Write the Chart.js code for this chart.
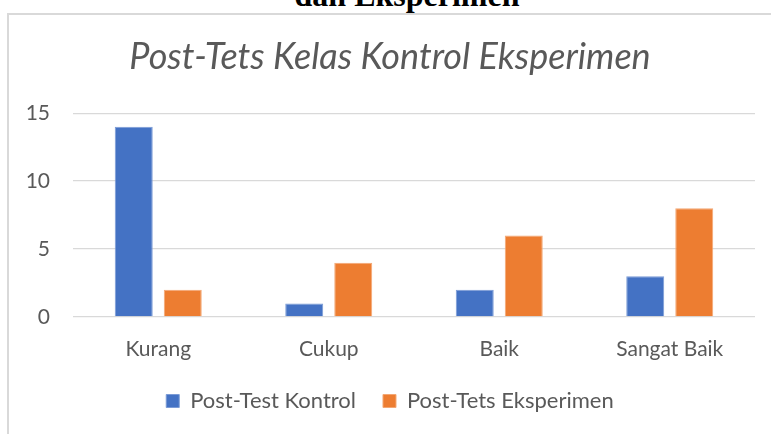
<!DOCTYPE html>
<html>
<head>
<meta charset="utf-8">
<script src="https://cdn.jsdelivr.net/npm/chart.js@4"></script>
<style>
  body { margin: 0; background: #fff; width: 771px; height: 434px; overflow: hidden; position: relative; }
  .caption { position: absolute; left: 0; width: 814px; top: -23px; text-align: center; line-height: 32px;
             font: bold 32px "Liberation Serif", serif; color: #000; white-space: nowrap; }
  .frame { position: absolute; left: 7px; top: 13px; width: 800px; height: 450px; border: 2px solid #d9d9d9; }
  canvas { position: absolute; left: 0; top: 0; }
</style>
</head>
<body>
<div class="caption">dan Eksperimen</div>
<div class="frame"></div>
<canvas id="postTestChart" width="771" height="434"></canvas>
<script>
let categories = ["Kurang", "Cukup", "Baik", "Sangat Baik"];
let kontrolValues = [14, 1, 2, 3];
let eksperimenValues = [2, 4, 6, 8];
let yTicks = [0, 5, 10, 15];

Chart.defaults.font.family = "Lato, 'Open Sans', sans-serif";
Chart.defaults.color = '#595959';

new Chart("postTestChart", {
  type: 'bar',
  data: {
    labels: categories,
    datasets: [{
      label: 'Post-Test Kontrol',
      data: kontrolValues,
      backgroundColor: '#4472C4',
      borderColor: '#7b9bd6',
      borderWidth: 1,
      barPercentage: 0.775,
      categoryPercentage: 0.575
    }, {
      label: 'Post-Tets Eksperimen',
      data: eksperimenValues,
      backgroundColor: '#ED7D31',
      borderColor: '#f3a774',
      borderWidth: 1,
      barPercentage: 0.775,
      categoryPercentage: 0.575
    }]
  },
  options: {
    responsive: false,
    animation: false,
    layout: { padding: { left: 25, right: 16, top: 0, bottom: 12 } },
    plugins: {
      title: {
        display: true,
        text: 'Post-Tets Kelas Kontrol Eksperimen',
        font: { size: 36, style: 'italic', weight: 'normal' },
        color: '#595959',
        padding: { top: 36, bottom: 34 }
      },
      legend: {
        position: 'bottom',
        labels: {
          boxWidth: 13,
          boxHeight: 13,
          font: { size: 22 },
          padding: 27,
          color: '#595959'
        }
      },
      tooltip: { enabled: false }
    },
    scales: {
      x: {
        grid: { display: false },
        border: { display: false },
        ticks: { font: { size: 21 }, padding: 12 },
        afterFit: function(scale) { scale.height = 46; }
      },
      y: {
        min: 0,
        max: 15,
        afterBuildTicks: function(scale) {
          scale.ticks = yTicks.map(function(v) { return { value: v }; });
        },
        afterFit: function(scale) { scale.width = 48; },
        grid: { color: '#d9d9d9', lineWidth: 1.3, drawTicks: false },
        border: { display: false },
        ticks: { font: { size: 21 }, padding: 23 }
      }
    }
  }
});
</script>
</body>
</html>
